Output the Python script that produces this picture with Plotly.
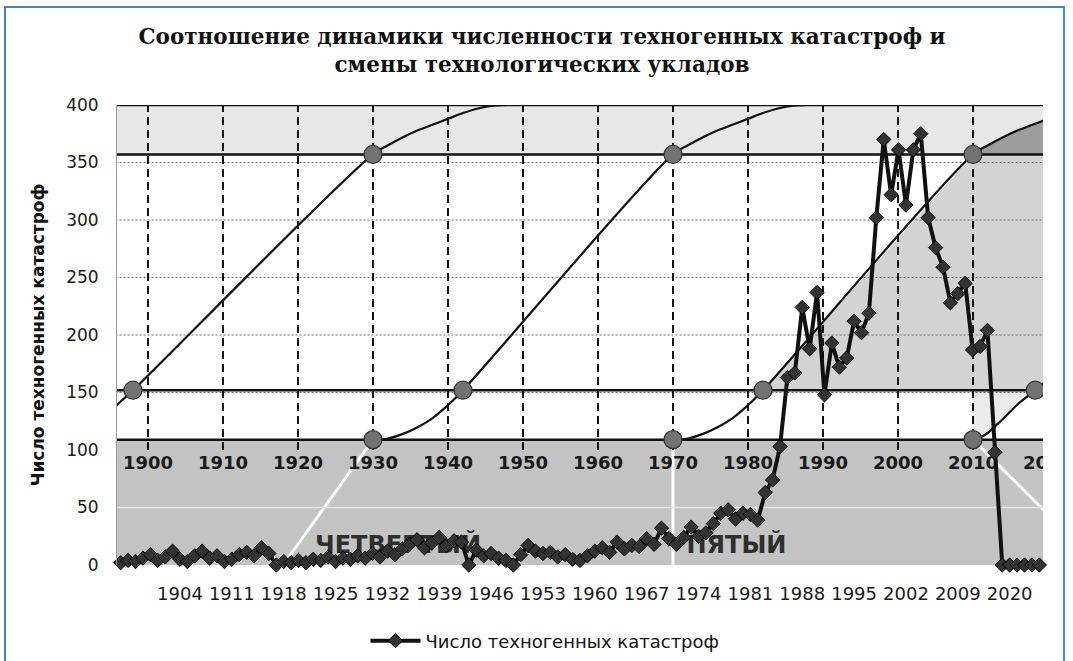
import plotly.graph_objects as go

# ---------------- data ----------------
# catastrophe series (category axis, one point per category)
years = list(range(1896, 2010)) + list(range(2014, 2025))
catastrophes = [
    2, 4, 3, 6, 9, 4, 7, 12, 5, 3,
    8, 12, 6, 8, 3, 5, 9, 11, 8, 15,
    10, 0, 3, 2, 4, 2, 5, 4, 7, 3,
    6, 5, 8, 6, 10, 7, 12, 9, 14, 18,
    22, 15, 19, 24, 17, 21, 20, 0, 13, 8,
    10, 6, 4, 0, 9, 17, 12, 10, 11, 7,
    9, 5, 4, 8, 12, 15, 11, 20, 14, 17,
    16, 23, 18, 32, 23, 18, 24, 33, 25, 28,
    36, 45, 48, 40, 45, 44, 39, 63, 74, 103,
    163, 167, 224, 188, 237, 148, 193, 172, 180, 212,
    202, 219, 302, 370, 322, 361, 313, 361, 375, 302,
    276, 259, 228, 236, 245, 187, 190, 204, 98, 0,
    0, 0, 0, 0, 0,
]
year_labels = [str(y) for y in years]
tick_labels = ['1904', '1911', '1918', '1925', '1932', '1939', '1946', '1953',
               '1960', '1967', '1974', '1981', '1988', '1995', '2002', '2009', '2020']

# technological-order S-curves on the secondary (calendar year) axis
curve_a_years = [1894, 1896, 1898, 1930, 1932, 1934, 1936, 1938, 1940, 1942, 1944, 1946, 1948, 2021]
curve_a_vals = [128, 140, 152, 357, 365, 372, 378, 383, 388, 393, 397, 399.5, 400, 400]
curve_b_years = [1930, 1932, 1934, 1936, 1938, 1940, 1942, 1970, 1972, 1974, 1976, 1978, 1980,
                 1982, 1984, 1986, 1988, 2021]
curve_b_vals = [109, 110, 114, 120, 128, 139, 152, 357, 365, 372, 378, 383, 388, 393, 397, 399.5, 400, 400]
curve_c_years = [1970, 1972, 1974, 1976, 1978, 1980, 1982, 2010, 2012, 2014, 2016, 2018, 2020, 2022]
curve_c_vals = [109, 110, 114, 120, 128, 139, 152, 357, 365, 372, 378, 383, 388, 393]
curve_d_years = [2010, 2011, 2012, 2013, 2014, 2016, 2018.3, 2021]
curve_d_vals = [109, 111, 115, 121, 127, 140, 152, 168]

circle_years = [1898, 1930, 1930, 1942, 1970, 1970, 1982, 2010, 2010, 2018.3]
circle_vals = [152, 357, 109, 152, 357, 109, 152, 357, 109, 152]

levels = [109, 152, 357, 400]
grid_levels = [150, 200, 250, 300, 350]
light_grid_levels = [50]
decades = [1900, 1910, 1920, 1930, 1940, 1950, 1960, 1970, 1980, 1990, 2000, 2010, 2020]
decade_label_level = 87
dash_from, dash_to = 100, 400
boundary_years = [[1930, 1918], [1970, 1970], [2010, 2026.8]]
boundary_vals = [[109, 0], [109, 0], [109, 0]]
order_names = ['ЧЕТВЕРТЫЙ', 'ПЯТЫЙ']
order_years = [1922.3, 1971.8]
order_level = 16
y_ticks = [0, 50, 100, 150, 200, 250, 300, 350, 400]

X_LO, X_HI = 1895.87, 2019.33

# ---------------- figure ----------------
fig = go.Figure()
skip = dict(hoverinfo='skip', showlegend=False)

# region under curve C between 152 and 357
mid_pts = [(x, v) for x, v in zip(curve_c_years, curve_c_vals) if 152 <= v <= 357]
fig.add_trace(go.Scatter(x=[p[0] for p in mid_pts] + [X_HI + 5, X_HI + 5],
                         y=[p[1] for p in mid_pts] + [357, 152],
                         fill='toself', fillcolor='#d3d3d3', mode='lines',
                         line=dict(width=0), **skip))
# dark region under curve C above 357
top_pts = [(x, v) for x, v in zip(curve_c_years, curve_c_vals) if v >= 357]
fig.add_trace(go.Scatter(x=[p[0] for p in top_pts] + [top_pts[-1][0]],
                         y=[p[1] for p in top_pts] + [357],
                         fill='toself', fillcolor='#9d9d9d', mode='lines',
                         line=dict(width=0), **skip))
# light region above curve D below 152
d_pts = [(x, v) for x, v in zip(curve_d_years, curve_d_vals) if v <= 152]
fig.add_trace(go.Scatter(x=[p[0] for p in d_pts] + [d_pts[0][0]],
                         y=[p[1] for p in d_pts] + [152],
                         fill='toself', fillcolor='#ebebeb', mode='lines',
                         line=dict(width=0), **skip))

# white separators in the bottom band
for bx, bv in zip(boundary_years, boundary_vals):
    fig.add_trace(go.Scatter(x=bx, y=bv, mode='lines',
                             line=dict(color='white', width=3), **skip))

# light gridline inside the bottom band
gx, gy = [], []
for g in light_grid_levels:
    gx += [X_LO - 5, X_HI + 5, None]
    gy += [g, g, None]
fig.add_trace(go.Scatter(x=gx, y=gy, mode='lines',
                         line=dict(color='#e4e4e4', width=1.5), **skip))

# dotted horizontal gridlines
gx, gy = [], []
for g in grid_levels:
    gx += [X_LO - 5, X_HI + 5, None]
    gy += [g, g, None]
fig.add_trace(go.Scatter(x=gx, y=gy, mode='lines',
                         line=dict(color='#6a6a6a', width=1, dash='2px,2px'), **skip))

# dashed vertical decade lines
vx, vy = [], []
for d in decades:
    vx += [d, d, None]
    vy += [dash_from, dash_to, None]
fig.add_trace(go.Scatter(x=vx, y=vy, mode='lines',
                         line=dict(color='#111111', width=2, dash='8px,5px'), **skip))

# thick horizontal level lines
lx, ly = [], []
for lv in levels:
    lx += [X_LO - 5, X_HI + 5, None]
    ly += [lv, lv, None]
fig.add_trace(go.Scatter(x=lx, y=ly, mode='lines',
                         line=dict(color='#111111', width=2.5), **skip))

# S-curves
for cx, cv in [(curve_a_years, curve_a_vals), (curve_b_years, curve_b_vals),
               (curve_c_years, curve_c_vals), (curve_d_years, curve_d_vals)]:
    fig.add_trace(go.Scatter(x=cx, y=cv, mode='lines', line_shape='spline',
                             line=dict(color='#111111', width=2.2), **skip))

# circle markers
fig.add_trace(go.Scatter(x=circle_years, y=circle_vals, mode='markers',
                         marker=dict(size=18, color='#727272',
                                     line=dict(color='#333333', width=1.2)),
                         **skip))

# decade labels (secondary axis labels)
fig.add_trace(go.Scatter(x=decades, y=[decade_label_level] * len(decades), mode='text',
                         text=[str(d) for d in decades],
                         textfont=dict(family='DejaVu Sans', size=18, color='#1a1a1a',
                                       weight='bold'),
                         **skip))

# technological order names
fig.add_trace(go.Scatter(x=order_years, y=[order_level] * len(order_years), mode='text',
                         text=order_names, textposition='middle right',
                         textfont=dict(family='DejaVu Sans', size=24, color='#2e2e2e',
                                       weight='bold'),
                         **skip))

# catastrophe series
fig.add_trace(go.Scatter(x=year_labels, y=catastrophes, xaxis='x2', yaxis='y',
                         mode='lines+markers', name='Число техногенных катастроф',
                         line=dict(color='#111111', width=4),
                         marker=dict(symbol='diamond', size=11, color='#333333',
                                     line=dict(color='#000000', width=1)),
                         cliponaxis=False, hoverinfo='x+y'))

PX_L, PX_R, PX_T, PX_B = 117, 1043, 105, 565
W, H = 1073, 661
pw, ph = PX_R - PX_L, PX_B - PX_T

fig.update_layout(
    width=W, height=H,
    margin=dict(l=PX_L, r=W - PX_R, t=PX_T, b=H - PX_B, autoexpand=False),
    paper_bgcolor='white', plot_bgcolor='white',
    title=dict(text='<b>Соотношение динамики численности техногенных катастроф и<br>'
                    'смены технологических укладов</b>',
               x=542 / W, xanchor='center', xref='container',
               y=1 - 44 / H, yanchor='top', yref='container',
               font=dict(family='DejaVu Serif', size=21.5, color='#111111')),
    xaxis=dict(range=[X_LO, X_HI], showgrid=False, zeroline=False,
               showticklabels=False, showline=False, ticks=''),
    xaxis2=dict(type='category', overlaying='x', anchor='y', side='bottom',
                categoryorder='array', categoryarray=year_labels,
                range=[-0.5, len(year_labels) - 0.5],
                tickmode='array', tickvals=tick_labels, ticktext=tick_labels,
                showgrid=False, zeroline=False, showline=False, ticks='',
                ticklabelstandoff=16,
                tickfont=dict(family='DejaVu Sans', size=18, color='#1a1a1a')),
    yaxis=dict(range=[0, 400], tickmode='array', tickvals=y_ticks,
               showgrid=False, zeroline=False, showline=True,
               linecolor='#9a9a9a', linewidth=1, ticks='',
               ticklabelstandoff=14,
               tickfont=dict(family='DejaVu Sans', size=17, color='#1a1a1a'),
               title=dict(text='<b>Число техногенных катастроф</b>', standoff=17,
                          font=dict(family='DejaVu Sans', size=17, color='#111111'))),
    shapes=[
        dict(type='rect', xref='x domain', yref='y', x0=0, x1=1, y0=357, y1=400,
             fillcolor='#e7e7e7', line=dict(width=0), layer='below'),
        dict(type='rect', xref='x domain', yref='y', x0=0, x1=1, y0=0, y1=109,
             fillcolor='#c3c3c3', line=dict(width=0), layer='below'),
        dict(type='rect', xref='paper', yref='paper',
             x0=(5 - PX_L) / pw, x1=(1064 - PX_L) / pw,
             y0=(PX_B - 672) / ph, y1=(PX_B - 7) / ph,
             line=dict(color='#4f81bd', width=2), fillcolor='rgba(0,0,0,0)', layer='above'),
    ],
    showlegend=True,
    legend=dict(orientation='h', x=(545 - PX_L) / pw, xanchor='center',
                y=(PX_B - 641) / ph, yanchor='middle', itemwidth=50,
                font=dict(family='DejaVu Sans', size=18, color='#111111'),
                bgcolor='rgba(0,0,0,0)'),
)

fig.write_html('out.html', config={'displayModeBar': False},
               post_script="document.body.style.margin='0';")
